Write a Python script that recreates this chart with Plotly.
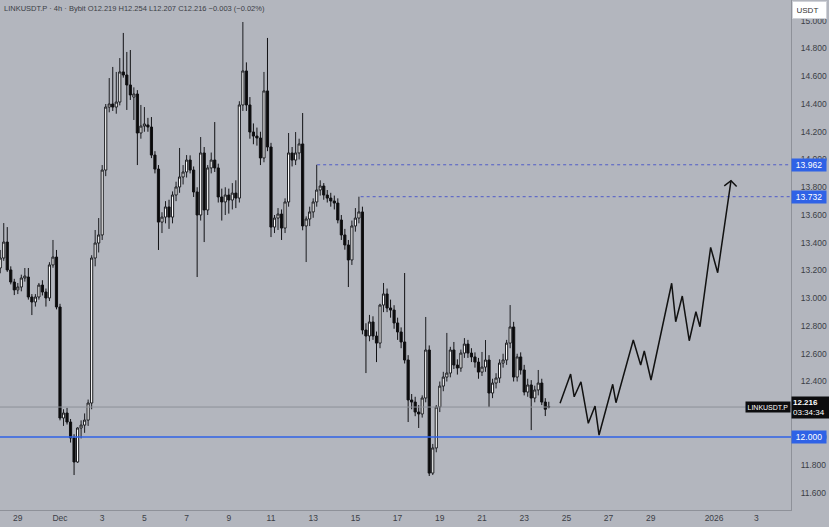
import pandas as pd
import plotly.graph_objects as go

# ---------------- data ----------------
start_time = "2025-11-28 04:00"
opens = [13.218, 13.290, 13.405, 13.204, 13.117, 13.060, 13.081, 13.146, 13.153, 13.009,
         12.973, 13.009, 13.095, 13.045, 13.002, 13.240, 13.297, 12.937, 12.137, 12.173,
         12.108, 11.993, 11.820, 12.065, 12.086, 12.122, 12.245, 13.290, 13.398, 13.456,
         13.924, 14.378, 14.400, 14.378, 14.414, 14.631, 14.609, 14.537, 14.450, 14.472,
         14.191, 14.241, 14.249, 14.234, 14.032, 13.931, 13.549, 13.585, 13.658, 13.585,
         13.744, 13.802, 13.874, 13.910, 13.996, 13.924, 13.766, 13.600, 14.047, 13.636,
         13.939, 13.996, 13.939, 13.730, 13.694, 13.744, 13.708, 13.758, 13.722, 14.393,
         14.638, 14.393, 14.198, 14.169, 14.155, 14.011, 14.494, 14.090, 13.513, 13.578,
         13.607, 13.506, 13.694, 14.047, 13.996, 14.047, 14.112, 13.521, 13.571, 13.622,
         13.694, 13.780, 13.809, 13.744, 13.722, 13.701, 13.686, 13.564, 13.456, 13.384,
         13.276, 13.521, 13.578, 13.622, 12.771, 12.728, 12.829, 12.728, 12.677, 12.951,
         13.031, 12.930, 12.915, 12.822, 12.757, 12.685, 12.555, 12.267, 12.252, 12.180,
         12.166, 12.281, 12.627, 11.740, 11.921, 12.216, 12.367, 12.432, 12.461, 12.627,
         12.519, 12.497, 12.605, 12.670, 12.605, 12.577, 12.540, 12.468, 12.504, 12.555,
         12.317, 12.389, 12.425, 12.533, 12.555, 12.677, 12.793, 12.432, 12.577, 12.483,
         12.324, 12.375, 12.281, 12.339, 12.389, 12.252, 12.219]
highs = [13.348, 13.542, 13.513, 13.230, 13.140, 13.110, 13.170, 13.218, 13.218, 13.030,
         13.030, 13.110, 13.130, 13.070, 13.260, 13.420, 13.348, 12.960, 12.200, 12.210,
         12.130, 12.020, 12.070, 12.120, 12.170, 12.270, 13.310, 13.492, 13.578, 13.960,
         14.400, 14.587, 14.667, 14.631, 14.731, 14.912, 14.775, 14.789, 14.520, 14.500,
         14.393, 14.378, 14.300, 14.306, 14.060, 13.960, 13.620, 13.700, 13.710, 13.770,
         13.840, 14.083, 13.960, 14.032, 14.030, 13.950, 13.800, 14.162, 14.090, 13.960,
         14.050, 14.270, 13.970, 13.790, 13.800, 13.790, 13.830, 13.850, 14.420, 14.991,
         14.700, 14.450, 14.260, 14.230, 14.200, 14.631, 14.876, 14.120, 13.600, 13.650,
         13.640, 13.720, 14.191, 14.090, 14.198, 14.150, 14.335, 13.590, 13.660, 13.720,
         13.962, 13.850, 13.830, 13.780, 13.760, 13.740, 13.720, 13.600, 13.500, 13.420,
         13.560, 13.650, 13.732, 13.660, 12.820, 12.880, 12.870, 12.760, 12.960, 13.110,
         13.070, 12.990, 12.950, 12.860, 12.790, 13.182, 12.590, 12.310, 12.290, 12.230,
         12.300, 12.865, 12.660, 11.950, 12.230, 12.400, 12.470, 12.750, 12.650, 12.685,
         12.560, 12.630, 12.713, 12.700, 12.640, 12.610, 12.570, 12.613, 12.699, 12.590,
         12.420, 12.460, 12.560, 12.600, 12.700, 12.951, 12.830, 12.600, 12.610, 12.520,
         12.420, 12.410, 12.370, 12.483, 12.420, 12.280, 12.254]
lows = [13.180, 13.270, 13.190, 13.100, 13.023, 13.030, 13.050, 13.120, 12.990, 12.879,
        12.940, 12.990, 13.020, 12.940, 12.980, 13.220, 12.920, 12.120, 12.080, 12.090,
        11.960, 11.726, 11.813, 11.990, 12.030, 12.080, 12.200, 13.230, 13.330, 13.420,
        13.880, 14.340, 14.350, 14.330, 14.390, 14.590, 14.357, 14.429, 14.285, 13.960,
        14.150, 14.200, 14.200, 14.010, 13.900, 13.348, 13.470, 13.540, 13.500, 13.540,
        13.700, 13.760, 13.820, 13.870, 13.900, 13.730, 13.153, 13.560, 13.405, 13.600,
        13.900, 13.910, 13.690, 13.560, 13.600, 13.610, 13.640, 13.650, 13.690, 14.350,
        14.350, 14.150, 14.110, 14.100, 13.960, 13.980, 14.060, 13.441, 13.470, 13.492,
        13.420, 13.470, 13.660, 13.950, 13.960, 14.000, 13.490, 13.261, 13.520, 13.580,
        13.660, 13.740, 13.710, 13.690, 13.660, 13.640, 13.540, 13.420, 13.350, 13.081,
        13.240, 13.480, 13.540, 12.740, 12.461, 12.690, 12.700, 12.540, 12.640, 12.900,
        12.900, 12.860, 12.780, 12.700, 12.640, 12.530, 12.108, 12.200, 12.150, 12.065,
        12.140, 12.250, 11.719, 11.726, 11.890, 12.180, 12.330, 12.400, 12.430, 12.490,
        12.450, 12.470, 12.570, 12.570, 12.540, 12.500, 12.420, 12.440, 12.470, 12.216,
        12.280, 12.350, 12.390, 12.500, 12.520, 12.640, 12.400, 12.400, 12.450, 12.300,
        12.290, 12.050, 12.250, 12.300, 12.230, 12.151, 12.207]
closes = [13.290, 13.405, 13.204, 13.117, 13.060, 13.081, 13.146, 13.160, 13.009, 12.973,
          13.009, 13.095, 13.045, 13.002, 13.240, 13.297, 12.937, 12.137, 12.173, 12.108,
          11.993, 11.820, 12.065, 12.086, 12.122, 12.245, 13.290, 13.398, 13.456, 13.924,
          14.378, 14.400, 14.378, 14.414, 14.631, 14.609, 14.537, 14.465, 14.472, 14.191,
          14.241, 14.256, 14.234, 14.032, 13.931, 13.549, 13.585, 13.658, 13.585, 13.744,
          13.802, 13.874, 13.910, 13.996, 13.924, 13.766, 13.600, 14.047, 13.636, 13.939,
          13.996, 13.939, 13.730, 13.694, 13.744, 13.708, 13.758, 13.722, 14.393, 14.638,
          14.393, 14.198, 14.169, 14.155, 14.011, 14.494, 14.090, 13.513, 13.578, 13.607,
          13.506, 13.694, 14.047, 13.996, 14.047, 14.112, 13.521, 13.571, 13.622, 13.694,
          13.780, 13.809, 13.744, 13.722, 13.701, 13.686, 13.564, 13.456, 13.384, 13.276,
          13.521, 13.578, 13.622, 12.771, 12.728, 12.829, 12.728, 12.677, 12.951, 13.031,
          12.930, 12.915, 12.822, 12.757, 12.685, 12.555, 12.267, 12.252, 12.180, 12.166,
          12.281, 12.627, 11.740, 11.921, 12.216, 12.367, 12.432, 12.461, 12.627, 12.519,
          12.497, 12.605, 12.670, 12.605, 12.577, 12.540, 12.468, 12.504, 12.555, 12.317,
          12.389, 12.425, 12.533, 12.555, 12.677, 12.793, 12.432, 12.577, 12.483, 12.324,
          12.375, 12.281, 12.339, 12.389, 12.252, 12.200, 12.216]

# projected path (hand drawn zig-zag)
proj_times = ["2025-12-24 16:48", "2025-12-25 04:48", "2025-12-25 08:53", "2025-12-25 16:33",
              "2025-12-26 00:55", "2025-12-26 08:35", "2025-12-26 13:08", "2025-12-27 04:42",
              "2025-12-27 08:24", "2025-12-28 04:05", "2025-12-28 12:30", "2025-12-28 16:35",
              "2025-12-29 00:15", "2025-12-29 23:45", "2025-12-30 04:20", "2025-12-30 11:50",
              "2025-12-30 19:45", "2025-12-31 03:20", "2025-12-31 07:55", "2025-12-31 20:05",
              "2026-01-01 04:05", "2026-01-01 19:15"]
proj_prices = [12.243, 12.454, 12.290, 12.398, 12.099, 12.223, 12.014, 12.380, 12.247, 12.699,
               12.519, 12.620, 12.411, 13.108, 12.831, 13.016, 12.694, 12.903, 12.795, 13.367,
               13.184, 13.847]
arrow_times = ["2026-01-01 11:35", "2026-01-01 19:15", "2026-01-02 01:40"]
arrow_prices = [13.810, 13.847, 13.805]

support_level = 12.000
resist_levels = [13.962, 13.732]
resist_starts = ["2025-12-13 04:30", "2025-12-15 06:00"]
last_price = 12.216

x_tick_dates = ["2025-11-29", "2025-12-01", "2025-12-03", "2025-12-05", "2025-12-07", "2025-12-09",
                "2025-12-11", "2025-12-13", "2025-12-15", "2025-12-17", "2025-12-19", "2025-12-21",
                "2025-12-23", "2025-12-25", "2025-12-27", "2025-12-29", "2026-01-01", "2026-01-03"]
x_tick_text = ["29", "Dec", "3", "5", "7", "9", "11", "13", "15", "17", "19", "21", "23", "25",
               "27", "29", "2026", "3"]
y_tick_vals = [11.6, 11.8, 12.0, 12.2, 12.4, 12.6, 12.8, 13.0, 13.2, 13.4, 13.6, 13.8, 14.0,
               14.2, 14.4, 14.6, 14.8, 15.0]
y_tick_text = ["11.600", "11.800", "12.000", "12.200", "12.400", "12.600", "12.800", "13.000",
               "13.200", "13.400", "13.600", "13.800", "14.000", "14.200", "14.400", "14.600",
               "14.800", "15.000"]

x_range = ["2025-11-28 03:45", "2026-01-04 15:29"]
y_range = [11.474, 15.1495]

# ---------------- figure ----------------
BG = "#b3b6be"
TXT = "#3b3e46"
BLUE = "#2f62e6"
FONT = "Liberation Sans"

times = pd.date_range(start_time, periods=len(opens), freq="4h")

fig = go.Figure()

# current price line
fig.add_trace(go.Scatter(x=x_range, y=[last_price, last_price], mode="lines",
                         line=dict(color="#8e9199", width=1), hoverinfo="skip"))
# support line
fig.add_trace(go.Scatter(x=x_range, y=[support_level, support_level], mode="lines",
                         line=dict(color=BLUE, width=1.3), hoverinfo="skip"))
# resistance dotted lines
for lvl, st in zip(resist_levels, resist_starts):
    fig.add_trace(go.Scatter(x=[st, x_range[1]], y=[lvl, lvl], mode="lines",
                             line=dict(color="#4f5cc8", width=1, dash="dot"), hoverinfo="skip"))

fig.add_trace(go.Candlestick(
    x=times, open=opens, high=highs, low=lows, close=closes,
    increasing=dict(line=dict(color="#1c1d21", width=1), fillcolor="#ffffff"),
    decreasing=dict(line=dict(color="#111114", width=1), fillcolor="#0a0a0a"),
    whiskerwidth=0, hoverinfo="skip"))

fig.add_trace(go.Scatter(x=proj_times, y=proj_prices, mode="lines",
                         line=dict(color="#111111", width=1.5), hoverinfo="skip"))
fig.add_trace(go.Scatter(x=arrow_times, y=arrow_prices, mode="lines",
                         line=dict(color="#111111", width=1.5), hoverinfo="skip"))

annotations = []
annotations.append(dict(xref="paper", yref="paper", x=0.002, y=0.997, xanchor="left", yanchor="top",
                        showarrow=False,
                        text="LINKUSDT.P · 4h · Bybit O12.219 H12.254 L12.207 C12.216 −0.003 (−0.02%)",
                        font=dict(size=7.5, color=TXT, family=FONT)))
for lvl in resist_levels + [support_level]:
    annotations.append(dict(xref="paper", yref="y", x=1, y=lvl, xanchor="left", yanchor="middle",
                            showarrow=False, text=f"{lvl:.3f}", bgcolor=BLUE, borderpad=1,
                            width=32, font=dict(size=8.5, color="white", family=FONT)))
annotations.append(dict(xref="paper", yref="y", x=1, y=last_price, xanchor="left", yanchor="middle",
                        showarrow=False, text=f"<b>{last_price:.3f}</b><br>03:34:34", bgcolor="#0c0c0e",
                        borderpad=1, width=36, align="left",
                        font=dict(size=8, color="white", family=FONT)))
annotations.append(dict(xref="paper", yref="y", x=1, y=last_price, xanchor="right", yanchor="middle",
                        showarrow=False, text="LINKUSDT.P", bgcolor="#0c0c0e", borderpad=1.5,
                        font=dict(size=7, color="white", family=FONT)))
annotations.append(dict(xref="paper", yref="paper", x=1, y=1, xanchor="left", yanchor="top",
                        xshift=1, yshift=-1, showarrow=False, text="USDT", bgcolor="#ffffff",
                        bordercolor="#d0d2d8", borderpad=3.5, width=26, align="left",
                        font=dict(size=8, color="#333", family=FONT)))

fig.update_layout(
    width=829, height=527,
    margin=dict(l=0, r=38, t=0, b=17),
    paper_bgcolor=BG, plot_bgcolor=BG,
    showlegend=False,
    boxgap=0.12,
    font=dict(family=FONT, color=TXT),
    annotations=annotations,
    xaxis=dict(type="date", range=x_range, tickvals=x_tick_dates, ticktext=x_tick_text,
               showgrid=False, zeroline=False, showline=True, linecolor="#8e9199", linewidth=1,
               ticks="", tickfont=dict(size=8.5, color=TXT), rangeslider=dict(visible=False),
               fixedrange=True),
    yaxis=dict(side="right", range=y_range, tickvals=y_tick_vals, ticktext=y_tick_text,
               showgrid=False, zeroline=False, showline=True, linecolor="#8e9199", linewidth=1,
               ticks="", tickfont=dict(size=8.5, color=TXT), ticklabelstandoff=7, fixedrange=True),
)

fig.write_html("out.html", config={"displayModeBar": False},
               post_script="document.body.style.margin='0';document.body.style.background='%s';" % BG)
